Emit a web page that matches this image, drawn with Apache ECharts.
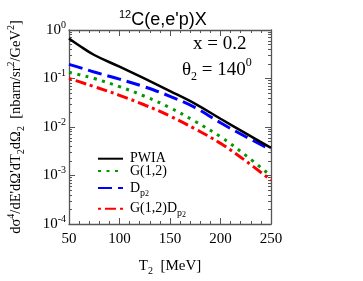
<!DOCTYPE html>
<html><head><meta charset="utf-8">
<script src="https://cdn.jsdelivr.net/npm/echarts@6/dist/echarts.min.js"></script>
<style>html,body{margin:0;padding:0;background:#fff}#c{width:363px;height:281px}</style>
</head><body><div id="c"></div>
<script>
const T2 = [50, 60, 75, 100, 125, 150, 175, 200, 225, 250];
const PWIA = [0.67, 0.48, 0.305, 0.175, 0.099, 0.055, 0.03, 0.0148, 0.0074, 0.0037];
const G12 = [0.134, 0.12, 0.1, 0.068, 0.043, 0.025, 0.013, 0.0063, 0.0026, 0.00098];
const Dp2 = [0.196, 0.17, 0.136, 0.097, 0.067, 0.043, 0.025, 0.0122, 0.0063, 0.0034];
const G12Dp2 = [0.1, 0.086, 0.068, 0.045, 0.0284, 0.0168, 0.0091, 0.0046, 0.002, 0.0008];
const xTicks = [50, 100, 150, 200, 250];
const yDecades = [1e-4, 1e-3, 1e-2, 1e-1, 1];
const names = ['PWIA', 'G(1,2)', 'D_p2', 'G(1,2)D_p2'];

const minorY = [];
for (let e = -4; e < 0; e++) for (let k = 2; k <= 9; k++) minorY.push(k * Math.pow(10, e));

const SERIF = 'Liberation Serif';
const AX = '#555';
const pair = arr => T2.map((t, i) => [t, arr[i]]);

const rich = {
  n: {fontFamily: SERIF, fontSize: 14, color: '#000', lineHeight: 20, verticalAlign: 'middle'},
  s: {fontFamily: SERIF, fontSize: 10, color: '#000', lineHeight: 6, verticalAlign: 'bottom'},
  ss: {fontFamily: SERIF, fontSize: 8, color: '#000', lineHeight: 0, verticalAlign: 'bottom'}
};
function legendFmt(name) {
  if (name === 'D_p2') return '{n|D}{s|p}{ss|2}';
  if (name === 'G(1,2)D_p2') return '{n|G(1,2)D}{s|p}{ss|2}';
  return '{n|' + name + '}';
}
const legendTops = [156.7, 169, 186, 206.7];
const legends = names.map((nm, i) => ({
  data: [nm], left: 97, top: legendTops[i] - 5, itemWidth: 25, itemHeight: 10,
  orient: 'vertical', padding: 0, itemGap: 0,
  formatter: legendFmt, textStyle: {rich: rich, padding: [0, 0, 0, 2]},
  itemStyle: {opacity: 0},
  selectedMode: false
}));

const chart = echarts.init(document.getElementById('c'), null, {renderer: 'canvas'});
const xCommon = {
  type: 'value', min: 50, max: 250, interval: 50,
  axisLine: {show: true, onZero: false, lineStyle: {color: AX, width: 1.3}},
  axisTick: {show: true, inside: true, length: 6, lineStyle: {color: AX}},
  minorTick: {show: true, splitNumber: 5, length: 3, lineStyle: {color: AX}},
  splitLine: {show: false}
};
const yCommon = {
  type: 'log', logBase: 10, min: 1e-4, max: 1,
  axisLine: {show: true, onZero: false, lineStyle: {color: AX, width: 1.3}},
  axisTick: {show: true, inside: true, length: 6, lineStyle: {color: AX}, customValues: yDecades},
  splitLine: {show: false}
};
const yMinor = {
  type: 'log', logBase: 10, min: 1e-4, max: 1,
  axisLine: {show: false},
  axisTick: {show: true, inside: true, length: 3, lineStyle: {color: AX}, customValues: minorY},
  axisLabel: {show: false}, splitLine: {show: false}
};

const option = {
  animation: false,
  backgroundColor: '#fff',
  grid: {left: 69, right: 92, top: 30, bottom: 57, outerBoundsMode: 'none', containLabel: false},
  title: {
    text: '{sup|12}{n|C(e,e\'p)X}', left: 114, top: 4,
    textStyle: {rich: {
      n: {fontFamily: 'Liberation Sans', fontSize: 18, fontWeight: 'normal', color: '#000', lineHeight: 22, verticalAlign: 'middle'},
      sup: {fontFamily: 'Liberation Sans', fontSize: 11, fontWeight: 'normal', color: '#000', lineHeight: 11, verticalAlign: 'top'}
    }}
  },
  legend: legends,
  xAxis: [
    Object.assign({}, xCommon, {
      position: 'bottom',
      axisLabel: {show: true, customValues: xTicks, fontFamily: SERIF, fontSize: 15, color: '#000', margin: 8},
      name: '{n|T}{s|2}{n|  [MeV]}', nameLocation: 'middle', nameGap: 32,
      nameTextStyle: {rich: {
        n: {fontFamily: SERIF, fontSize: 15, color: '#000', lineHeight: 20, verticalAlign: 'middle'},
        s: {fontFamily: SERIF, fontSize: 10, color: '#000', lineHeight: 8, verticalAlign: 'bottom'}
      }}
    }),
    Object.assign({}, xCommon, {position: 'top', axisLabel: {show: false}})
  ],
  yAxis: [
    Object.assign({}, yCommon, {
      position: 'left',
      axisLabel: {
        show: true, margin: 3, customValues: yDecades,
        formatter: v => '{b|10}{e|' + Math.round(Math.log10(v)) + '}',
        rich: {
          b: {fontFamily: SERIF, fontSize: 15, color: '#000', lineHeight: 20, verticalAlign: 'middle'},
          e: {fontFamily: SERIF, fontSize: 10, color: '#000', lineHeight: 10, verticalAlign: 'top'}
        }
      },
      name: '{n|d\u03c3}{p|4}{n|/dE\'d\u03a9\'dT}{s|2}{n|d\u03a9}{s|2}{n|  [nbarn/sr}{p|2}{n|/GeV}{p|2}{n|]}',
      nameLocation: 'middle', nameRotate: 90, nameGap: 43,
      nameTextStyle: {rich: {
        n: {fontFamily: SERIF, fontSize: 14.5, color: '#000', lineHeight: 20, verticalAlign: 'middle'},
        p: {fontFamily: SERIF, fontSize: 10, color: '#000', lineHeight: 9, verticalAlign: 'top'},
        s: {fontFamily: SERIF, fontSize: 10, color: '#000', lineHeight: 8, verticalAlign: 'bottom'}
      }}
    }),
    Object.assign({}, yCommon, {position: 'right', axisLabel: {show: false}}),
    Object.assign({}, yMinor, {position: 'left'}),
    Object.assign({}, yMinor, {position: 'right'})
  ],
  series: [
    {name: 'PWIA', type: 'line', data: pair(PWIA), smooth: 0.4, symbol: 'none',
     lineStyle: {color: '#000', width: 2.5}, itemStyle: {color: '#000'}, z: 5},
    {name: 'G(1,2)', type: 'line', data: pair(G12), smooth: 0.4, symbol: 'none',
     lineStyle: {color: '#009900', width: 3, type: [3, 5.5]}, itemStyle: {color: '#009900'}},
    {name: 'D_p2', type: 'line', data: pair(Dp2), smooth: 0.4, symbol: 'none',
     lineStyle: {color: '#0000ff', width: 3, type: [14, 6]}, itemStyle: {color: '#0000ff'}},
    {name: 'G(1,2)D_p2', type: 'line', data: pair(G12Dp2), smooth: 0.4, symbol: 'none',
     lineStyle: {color: '#ff0000', width: 3, type: [3, 4, 11, 4]}, itemStyle: {color: '#ff0000'}}
  ],
  graphic: [
    {type: 'text', left: 193, top: 35, style: {text: 'x = 0.2', font: '19px "Liberation Serif"', fill: '#000'}},
    {type: 'text', left: 182, top: 57, style: {
      text: '{n|\u03b8}{s|2}{n| = 140}{p|0}',
      rich: {
        n: {fontFamily: SERIF, fontSize: 19, fill: '#000', lineHeight: 26, verticalAlign: 'middle'},
        s: {fontFamily: SERIF, fontSize: 12, fill: '#000', lineHeight: 8, verticalAlign: 'bottom'},
        p: {fontFamily: SERIF, fontSize: 12, fill: '#000', lineHeight: 10, verticalAlign: 'top'}
      }
    }}
  ]
};
chart.setOption(option);
</script></body></html>
